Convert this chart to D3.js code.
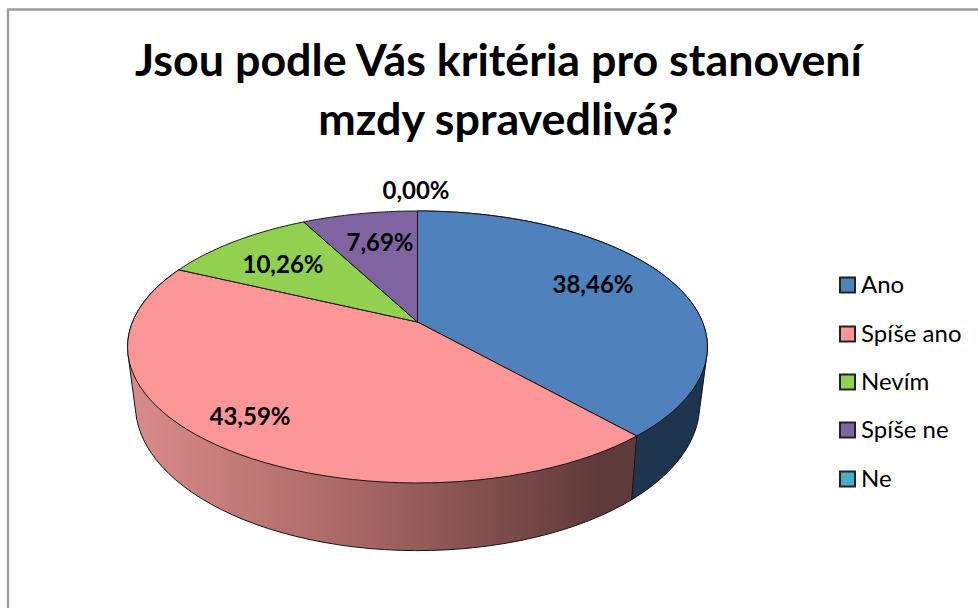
<!DOCTYPE html>
<html><head><meta charset="utf-8">
<script src="https://cdn.jsdelivr.net/npm/d3@7/dist/d3.min.js"></script>
<style>html,body{margin:0;padding:0;background:#fff;overflow:hidden}svg{display:block}text{font-family:Lato,"Open Sans",sans-serif;fill:#000}</style>
</head><body><svg id="c" width="978" height="608"></svg>
<script>
const categories=["Ano","Spíše ano","Nevím","Spíše ne","Ne"];
const percents=[38.46,43.59,10.26,7.69,0.00];
const topColors=["#4f81bd","#fd9696","#92d050","#8064a2","#4bacc6"];
const labelText=["38,46%","43,59%","10,26%","7,69%","0,00%"];
const labelX=[593,250,283,380,416];
const labelY=[285,417,265,243,191];
const titleLines=["Jsou podle Vás kritéria pro stanovení","mzdy spravedlivá?"];
const legendY=[285,334,382,430,479];

const svg=d3.select("#c");
const cx=417.5;
const upper={R:285,a:322,b:-72.2,c:0.1838};
const lower={R:277,a:377,b:-69,c:0.19};
const project=(rim,t)=>{const u=Math.sin(t),v=Math.cos(t),w=1+rim.c*v;
  return [cx+rim.R*u/w,(rim.a+rim.b*v)/w];};
const arcPts=(rim,t0,t1)=>d3.range(0,61).map(i=>project(rim,t0+(t1-t0)*i/60));

svg.append("path").attr("d","M8,608V9.5H978").attr("fill","none").attr("stroke","#9c9c9c").attr("stroke-width",2.4);

const defs=svg.append("defs");
const grad=defs.append("linearGradient").attr("id","sideGrad").attr("gradientUnits","userSpaceOnUse")
  .attr("x1",130).attr("x2",600).attr("y1",0).attr("y2",0);
grad.append("stop").attr("offset",0).attr("stop-color","#da8b89");
grad.append("stop").attr("offset",0.5).attr("stop-color","#a56664");
grad.append("stop").attr("offset",1).attr("stop-color","#5f3a3a");

const slices=d3.pie().sort(null).value(d=>d)(percents);
const line=d3.line().curve(d3.curveLinearClosed);
const edge={stroke:"#141414","stroke-width":1,"stroke-linejoin":"round"};
const applyEdge=s=>{Object.entries(edge).forEach(([k,v])=>s.attr(k,v));return s;};

// side walls: blue first, then pink on top of it
[{i:0,fill:"#1f344f"},{i:1,fill:"url(#sideGrad)"}].forEach(({i,fill})=>{
  const s=slices[i];
  const hull=d3.polygonHull(arcPts(upper,s.startAngle,s.endAngle).concat(arcPts(lower,s.startAngle,s.endAngle)));
  applyEdge(svg.append("path").attr("d",line(hull)).attr("fill",fill));
});

// top faces
slices.forEach((s,i)=>{
  if(s.endAngle-s.startAngle<=0) return;
  const pts=[[cx,upper.a]].concat(arcPts(upper,s.startAngle,s.endAngle));
  applyEdge(svg.append("path").attr("d",line(pts)).attr("fill",topColors[i]));
});

// data labels
labelText.forEach((t,i)=>svg.append("text").attr("x",labelX[i]).attr("y",labelY[i]).attr("dy","0.35em")
  .attr("text-anchor","middle").attr("font-size",24).attr("font-weight",700).text(t));

// title
titleLines.forEach((t,i)=>svg.append("text").attr("x",498.5).attr("y",76+i*59)
  .attr("text-anchor","middle").attr("font-size",44.8).attr("font-weight",700).text(t));

// legend
categories.forEach((c,i)=>{
  svg.append("rect").attr("x",840).attr("y",legendY[i]-7.5).attr("width",15).attr("height",15)
    .attr("fill",topColors[i]).attr("stroke","#222").attr("stroke-width",2);
  svg.append("text").attr("x",861).attr("y",legendY[i]).attr("dy","0.35em").attr("font-size",24).text(c);
});
</script></body></html>
